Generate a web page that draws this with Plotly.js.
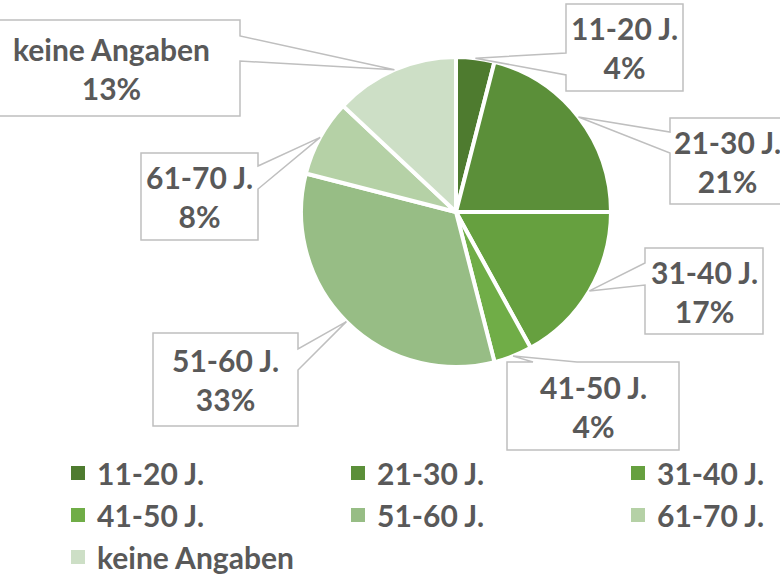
<!DOCTYPE html>
<html><head><meta charset="utf-8">
<script src="https://cdn.plot.ly/plotly-3.0.1.min.js"></script>
<style>html,body{margin:0;padding:0;background:#fff;overflow:hidden;width:780px;height:575px}
#chart{position:absolute;left:-30px;top:0;width:840px;height:575px}</style>
</head><body><div id="chart"></div>
<script>
// ---- data ----
const categories = ["11-20 J.", "21-30 J.", "31-40 J.", "41-50 J.", "51-60 J.", "61-70 J.", "keine Angaben"];
const shares = [4, 21, 17, 4, 33, 8, 13];
const sliceColors = ["#4e7b2f", "#5b8f39", "#66a03f", "#70ad47", "#97bd85", "#b5d1a6", "#cddfc6"];

// ---- layout constants (pixels of the visible 780x575 view) ----
// the chart is slightly wider than the view (the reference is a crop: boxes are cut at both sides)
const OFF = 30, W = 840, H = 575;
const CX = 456, CY = 212, R = 155;
const FONT = 'Lato, "Open Sans", sans-serif';
const TXT = '#595959';
// callout boxes: [x0, y0, x1, y1], side where the pointer leaves, base of pointer along that side
const callouts = [
  {b: [566, 4, 683, 91],    side: 'left',  base: [53, 75]},
  {b: [670, 118, 784, 204], side: 'left',  base: [132, 153]},
  {b: [645, 248, 763, 334], side: 'left',  base: [263, 285]},
  {b: [507, 362, 679, 450], side: 'top',   base: [533, 577]},
  {b: [153, 333, 298, 426], side: 'right', base: [349, 370]},
  {b: [141, 153, 258, 240], side: 'right', base: [166, 189]},
  {b: [-18, 20, 240, 116],  side: 'right', base: [36, 61]}
];

const px = x => (x + OFF) / W;
const py = y => 1 - y / H;

const total = shares.reduce((a, b) => a + b, 0);
let cum = 0;
const shapes = [], annotations = [];
shares.forEach((v, i) => {
  const mid = (cum + v / 2) / total * 2 * Math.PI;
  cum += v;
  const tx = CX + R * Math.sin(mid), ty = CY - R * Math.cos(mid);
  const c = callouts[i];
  const [x0, y0, x1, y1] = c.b;
  let pts = [];
  if (c.side === 'top') {
    pts = [[x0, y0], [c.base[0], y0], [tx, ty], [c.base[1], y0], [x1, y0], [x1, y1], [x0, y1]];
  } else if (c.side === 'right') {
    pts = [[x0, y0], [x1, y0], [x1, c.base[0]], [tx, ty], [x1, c.base[1]], [x1, y1], [x0, y1]];
  } else {
    pts = [[x0, y0], [x1, y0], [x1, y1], [x0, y1], [x0, c.base[1]], [tx, ty], [x0, c.base[0]]];
  }
  const path = 'M ' + pts.map(p => px(p[0]).toFixed(5) + ',' + py(p[1]).toFixed(5)).join(' L ') + ' Z';
  shapes.push({type: 'path', path: path, xref: 'paper', yref: 'paper', layer: 'above',
    fillcolor: '#ffffff', line: {color: '#bfbfbf', width: 1.5}});
  annotations.push({
    xref: 'paper', yref: 'paper', x: px((x0 + x1) / 2), y: py((y0 + y1) / 2),
    xanchor: 'center', yanchor: 'middle', showarrow: false, align: 'center',
    text: categories[i] + '<br>' + Math.round(v / total * 100) + '%',
    font: {family: FONT, size: 30, color: TXT, weight: 700}
  });
});

const trace = {
  type: 'pie',
  labels: categories,
  values: shares,
  sort: false,
  direction: 'clockwise',
  rotation: 0,
  textinfo: 'none',
  hoverinfo: 'label+percent',
  marker: {colors: sliceColors, line: {color: '#ffffff', width: categories.map(() => 4)}},
  domain: {x: [px(CX - R), px(CX + R)], y: [py(CY + R), py(CY - R)]}
};

const layout = {
  width: W, height: H,
  margin: {l: 0, r: 0, t: 0, b: 0, autoexpand: false},
  paper_bgcolor: '#ffffff',
  showlegend: true,
  legend: {
    orientation: 'h', x: px(57), y: py(447), xanchor: 'left', yanchor: 'top',
    entrywidth: 235, entrywidthmode: 'pixels',
    bgcolor: 'rgba(0,0,0,0)',
    font: {family: FONT, size: 30, color: TXT, weight: 700}
  },
  shapes: shapes,
  annotations: annotations
};

Plotly.newPlot('chart', [trace], layout, {displayModeBar: false, staticPlot: true}).then(gd => {
  // square legend swatches like the reference (no white outline, ~14px)
  gd.querySelectorAll('.legendpie').forEach(p => {
    p.setAttribute('d', 'M7,7H-7V-7H7Z');
    p.setAttribute('transform', 'translate(21,0)');
    p.style.strokeWidth = '0px';
  });
});
</script>
</body></html>
